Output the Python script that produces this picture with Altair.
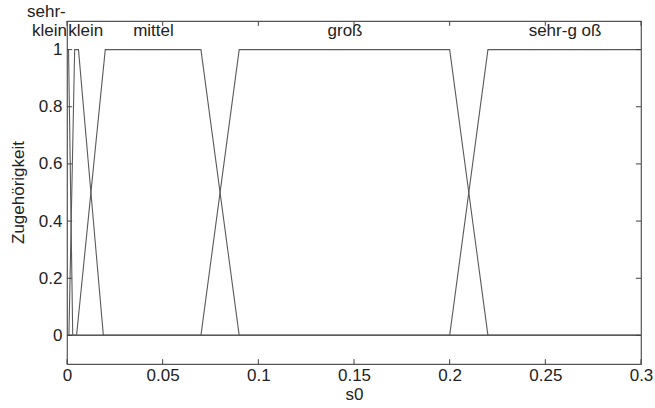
import altair as alt
import pandas as pd

# Membership functions of the input variable s0 (breakpoints and degrees)
mf_names = ["sehr-klein", "klein", "mittel", "groß", "sehr-groß"]
mf_x = [
    [0.0, 0.0008, 0.003, 0.3],
    [0.0, 0.001, 0.004, 0.006, 0.019, 0.3],
    [0.0, 0.005, 0.02, 0.07, 0.09, 0.3],
    [0.0, 0.07, 0.09, 0.2, 0.22, 0.3],
    [0.0, 0.2, 0.22, 0.3],
]
mf_y = [
    [1, 1, 0, 0],
    [0, 0, 1, 1, 0, 0],
    [0, 0, 1, 1, 0, 0],
    [0, 0, 1, 1, 0, 0],
    [0, 0, 1, 1],
]

# Term labels above the curves
label_text = ["sehr-", "klein", "klein", "mittel", "groß", "sehr-g oß"]
label_x = [-0.0108, -0.0092, 0.0098, 0.0452, 0.1453, 0.2603]
label_y = [1.133, 1.064, 1.064, 1.064, 1.064, 1.064]

x_ticks = [0, 0.05, 0.1, 0.15, 0.2, 0.25, 0.3]
y_ticks = [0, 0.2, 0.4, 0.6, 0.8, 1]

X_MIN, X_MAX = 0.0, 0.3
Y_MIN, Y_MAX = -0.1, 1.1

rows = []
for name, xs, ys in zip(mf_names, mf_x, mf_y):
    for i, (xv, yv) in enumerate(zip(xs, ys)):
        rows.append({"mf": name, "x": xv, "y": yv, "i": i})
curves = pd.DataFrame(rows)

labels = pd.DataFrame({"t": label_text, "x": label_x, "y": label_y})

# inward-pointing ticks on all four sides of the frame
tick_len_y = 0.017
tick_len_x = 0.0027
tick_rows = []
for v in x_ticks:
    tick_rows.append({"x": v, "x2": v, "y": Y_MIN, "y2": Y_MIN + tick_len_y})
    tick_rows.append({"x": v, "x2": v, "y": Y_MAX, "y2": Y_MAX - tick_len_y})
for v in y_ticks:
    tick_rows.append({"x": X_MIN, "x2": X_MIN + tick_len_x, "y": v, "y2": v})
    tick_rows.append({"x": X_MAX, "x2": X_MAX - tick_len_x, "y": v, "y2": v})
ticks = pd.DataFrame(tick_rows)

FONT = "Liberation Sans"
xscale = alt.Scale(domain=[X_MIN, X_MAX], nice=False, zero=False)
yscale = alt.Scale(domain=[Y_MIN, Y_MAX], nice=False, zero=False)

x_axis = alt.Axis(
    values=x_ticks, format="~g", ticks=False, domain=False, grid=False,
    labelFontSize=17, labelFont=FONT, labelColor="#222", labelPadding=3,
    title="s0", titleFontSize=17, titleFont=FONT, titleColor="#222",
    titleFontWeight="normal", titlePadding=3, labelFlush=False,
)
y_axis = alt.Axis(
    values=y_ticks, format="~g", ticks=False, domain=False, grid=False,
    labelFontSize=17, labelFont=FONT, labelColor="#222", labelPadding=5,
    title="Zugehörigkeit", titleFontSize=17, titleFont=FONT, titleColor="#222",
    titleFontWeight="normal", titleX=-40, titleY=171, labelFlush=False,
)

lines = alt.Chart(curves).mark_line(color="#5a5a5a", strokeWidth=1.1, clip=True).encode(
    x=alt.X("x:Q", scale=xscale, axis=x_axis),
    y=alt.Y("y:Q", scale=yscale, axis=y_axis),
    detail="mf:N",
    order="i:Q",
)

tick_marks = alt.Chart(ticks).mark_rule(color="#444", strokeWidth=1).encode(
    x=alt.X("x:Q", scale=xscale),
    x2="x2:Q",
    y=alt.Y("y:Q", scale=yscale),
    y2="y2:Q",
)

texts = alt.Chart(labels).mark_text(
    font=FONT, fontSize=17, color="#222", align="center", baseline="middle", clip=False
).encode(
    x=alt.X("x:Q", scale=xscale),
    y=alt.Y("y:Q", scale=yscale),
    text="t:N",
)

chart = (
    alt.layer(lines, tick_marks, texts)
    .properties(
        width=574,
        height=343,
        autosize=alt.AutoSizeParams(type="none"),
        padding={"left": 67, "top": 21, "right": 14, "bottom": 44},
        background="white",
    )
    .configure_view(stroke="#555", strokeWidth=1.2)
)

chart.save("out.html", embed_options={"renderer": "svg", "actions": False})
